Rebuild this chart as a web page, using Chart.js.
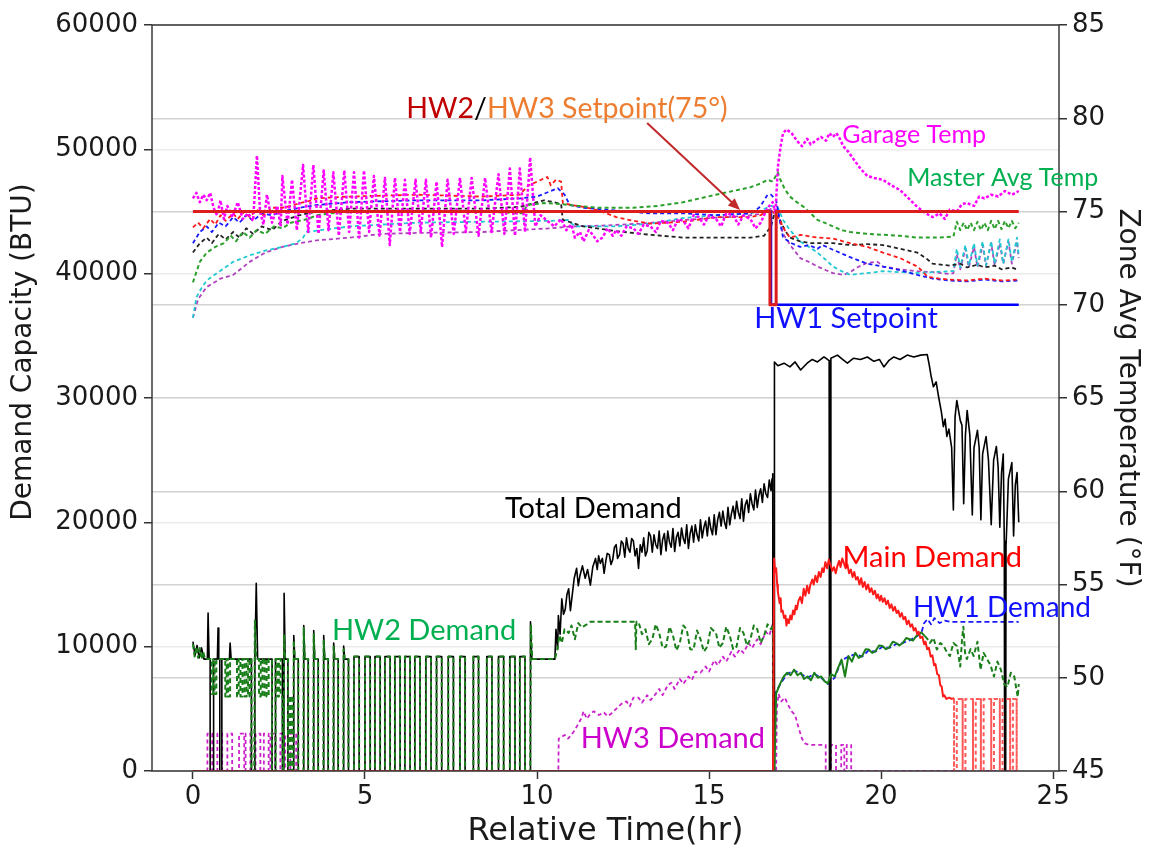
<!DOCTYPE html>
<html>
<head>
<meta charset="utf-8">
<script src="https://cdn.jsdelivr.net/npm/chart.js@4.4.1/dist/chart.umd.min.js"></script>
<style>
  html, body { margin: 0; padding: 0; background: #fff; overflow: hidden; }
  #wrap { width: 1151px; height: 851px; position: relative; }
</style>
</head>
<body>
<div id="wrap"><canvas id="chart"></canvas></div>
<script>
// ---- data (hours, BTU / °F) ----
const xTicks = [0, 5, 10, 15, 20, 25];

const totalDemand = [
  [0,10400],[0.06,9300],[0.12,10100],[0.18,9100],[0.25,9900],[0.32,9000],[0.42,9000],[0.44,12700],[0.47,9000],[0.5,9000],[0.5,0],[0.6,0],[0.6,9000],
  [0.71,9000],[0.73,11500],[0.75,9000],[0.78,9000],[0.78,0],[0.84,0],[0.84,9000],[1.06,9000],[1.08,10300],[1.11,9000],
  [1.7,9000],[1.7,0],[1.8,0],[1.8,9000],[1.84,15100],[1.88,9000],[2.3,9000],[2.3,0],[2.4,0],[2.4,9000],[2.6,9000],[2.6,0],[2.64,0],[2.65,14300],[2.68,9000],
  [2.76,9000],[2.76,0],[2.92,0],[2.93,10900],[2.96,9000],[3.06,9000],[3.06,0],[3.21,0],[3.22,11700],[3.25,9000],[3.35,9000],[3.35,0],
  [3.5,0],[3.51,11300],[3.54,9000],[3.64,9000],[3.64,0],[3.79,0],[3.8,10900],[3.83,9000],[3.93,9000],[3.93,0],
  [4.08,0],[4.09,10300],[4.12,9000],[4.22,9000],[4.22,0],[4.37,0],[4.38,10050],[4.41,9000],[4.52,9000],[4.52,0],
  [4.68,0],[4.68,9200],[4.83,9200],[4.83,0],[5.0,0],[5.0,9200],[5.15,9200],[5.15,0],[5.29,0],[5.29,9200],[5.44,9200],[5.44,0],
  [5.58,0],[5.58,9200],[5.73,9200],[5.73,0],[5.87,0],[5.87,9200],[6.02,9200],[6.02,0],[6.16,0],[6.16,9200],[6.31,9200],[6.31,0],
  [6.45,0],[6.45,9200],[6.6,9200],[6.6,0],[6.77,0],[6.77,9200],[6.92,9200],[6.92,0],[7.08,0],[7.08,9200],[7.23,9200],[7.23,0],
  [7.42,0],[7.42,9200],[7.57,9200],[7.57,0],[7.76,0],[7.76,9200],[7.91,9200],[7.91,0],[8.15,0],[8.15,9200],[8.3,9200],[8.3,0],
  [8.54,0],[8.54,9200],[8.69,9200],[8.69,0],[8.88,0],[8.88,9200],[9.03,9200],[9.03,0],[9.21,0],[9.21,9200],[9.36,9200],[9.36,0],
  [9.5,0],[9.5,9200],[9.65,9200],[9.65,0],[9.8,0],[9.81,12000],[9.85,9000],[10.52,9000],
  [10.55,11400],[10.6,9800],[10.62,12500],[10.67,11000],[10.72,13850],[10.77,12600],[10.82,13000],[10.87,14200],[10.92,14650],[10.97,12900],
  [11.0,13600],[11.08,15500],[11.15,16300],[11.2,14900],[11.25,15750],[11.32,16500],[11.4,15500],[11.47,16200],[11.55,14950],[11.62,16400],
  [11.7,17100],[11.75,16200],[11.79,17300],[11.84,16700],[11.9,17100],[11.95,15900],[12.0,16900],[12.04,17500],[12.1,17400],[12.15,16600],
  [12.2,17000],[12.25,18000],[12.3,18200],[12.34,17100],[12.4,17400],[12.45,18500],[12.5,18300],[12.55,17200],[12.6,18750],[12.65,17900],
  [12.7,17600],[12.75,18700],[12.8,18500],[12.85,17300],[12.9,17900],[12.95,16300],[13.0,18200],[13.05,17600],[13.1,18750],[13.15,17300],
  [13.2,17700],[13.25,19200],[13.3,18900],[13.35,17600],[13.4,19000],[13.45,18200],[13.5,17900],[13.55,19300],[13.6,17400],[13.65,18600],
  [13.7,19100],[13.75,17700],[13.8,19300],[13.85,18400],[13.9,18000],[13.95,19500],[14.0,17650],[14.05,18800],[14.1,19200],[14.15,18100],
  [14.2,19550],[14.25,18700],[14.3,18300],[14.35,19800],[14.4,17900],[14.45,19100],[14.5,19700],[14.55,18400],[14.6,19800],[14.65,19000],
  [14.7,18500],[14.75,20200],[14.8,18750],[14.85,19600],[14.9,20100],[14.95,18900],[15.0,20400],[15.05,19500],[15.1,19000],[15.15,20600],
  [15.2,19000],[15.25,20200],[15.3,20800],[15.35,19700],[15.4,20900],[15.45,20000],[15.5,19500],[15.55,21200],[15.6,19800],[15.65,20700],
  [15.7,21300],[15.75,20300],[15.8,21700],[15.85,20800],[15.9,20300],[15.95,21900],[16.0,20100],[16.05,21400],[16.1,21800],[16.15,20800],
  [16.2,22300],[16.25,21500],[16.3,21000],[16.35,22600],[16.4,21200],[16.45,22200],[16.5,22700],[16.55,21600],[16.6,23100],[16.65,22300],
  [16.7,22000],[16.75,23400],[16.8,22550],[16.83,23500],[16.85,23900],[16.86,0],[16.89,0],[16.9,32900],
  [17.0,32600],[17.18,32800],[17.35,32500],[17.5,32900],[17.66,32250],[17.85,32800],[18.0,33100],[18.15,32900],[18.34,33300],[18.49,33000],
  [18.5,0],[18.53,0],[18.54,33200],[18.73,33450],[18.88,33100],[19.02,32800],[19.2,33200],[19.4,33100],[19.6,33300],[19.79,32950],
  [19.95,33100],[20.08,32500],[20.22,33000],[20.37,33300],[20.55,33100],[20.76,33450],[20.95,33300],[21.15,33450],[21.34,33500],
  [21.4,32650],[21.45,31800],[21.52,30900],[21.6,31300],[21.67,30100],[21.75,28900],[21.81,27700],[21.86,28300],[21.91,26900],[21.97,27500],
  [22.05,26000],[22.1,21000],[22.15,28500],[22.2,29800],[22.3,28200],[22.35,27800],[22.4,21500],[22.45,27000],[22.5,29000],[22.58,27000],
  [22.65,20600],[22.7,26000],[22.8,27400],[22.85,26000],[22.9,20200],[22.95,25500],[23.05,26900],[23.12,25000],[23.2,19800],[23.27,25000],
  [23.35,26100],[23.4,24500],[23.45,19600],[23.5,24000],[23.55,25500],[23.58,18500],[23.59,0],[23.62,0],[23.63,18000],[23.7,23500],
  [23.8,24800],[23.85,18900],[23.9,23000],[23.95,24000],[24.0,20000]
];

const mainDemand = [
  [0,0],[16.86,0],[16.89,17100],[16.92,16000],[16.95,16300],[16.98,15000],[17.0,14400],[17.05,13500],[17.08,13900],[17.1,12800],
  [17.14,12900],[17.18,12300],[17.22,12500],[17.25,11700],[17.28,12200],[17.32,11900],[17.36,12500],[17.4,12200],[17.44,12900],[17.48,12600],
  [17.52,13300],[17.55,13000],[17.6,13700],[17.65,14000],[17.7,13500],[17.75,14650],[17.8,14100],[17.85,14900],[17.9,14300],[17.94,14950],
  [18.0,15400],[18.04,15000],[18.09,15700],[18.14,15200],[18.19,16000],[18.24,15600],[18.29,16300],[18.33,16000],[18.38,16800],[18.43,16300],
  [18.48,17000],[18.53,16550],[18.58,16100],[18.63,16400],[18.68,15900],[18.73,16500],[18.78,16900],[18.82,16400],[18.87,17100],[18.92,16700],
  [18.97,16300],[19.02,16600],[19.07,15900],[19.12,16200],[19.17,15600],[19.22,16000],[19.27,15400],[19.32,15600],[19.37,15000],[19.42,15500],
  [19.47,14800],[19.52,15200],[19.57,14600],[19.62,15000],[19.67,14400],[19.72,14700],[19.77,14200],[19.82,14500],[19.87,13900],[19.91,14200],
  [19.96,13700],[20.0,14100],[20.05,13600],[20.1,13900],[20.15,13400],[20.2,13700],[20.25,13100],[20.3,13400],[20.35,12900],[20.4,13200],
  [20.45,12700],[20.5,12900],[20.55,12400],[20.6,12700],[20.65,12200],[20.7,12400],[20.75,11800],[20.8,12100],[20.85,11600],[20.9,11800],
  [20.95,11300],[21.0,11500],[21.05,11000],[21.09,11200],[21.14,10700],[21.2,10800],[21.25,10200],[21.29,10400],[21.34,9800],[21.39,9900],
  [21.44,9200],[21.49,9300],[21.54,8500],[21.58,8600],[21.63,7800],[21.68,7700],[21.72,6900],[21.76,6800],[21.8,6000],[21.83,6100],
  [21.9,5800],[21.98,5900],[22.05,5800],[22.12,5850],
  [22.12,0],[22.2,0],[22.2,5800],[22.37,5800],[22.37,0],[22.45,0],[22.45,5800],[22.67,5800],[22.67,0],
  [22.75,0],[22.75,5800],[22.9,5800],[22.9,0],[22.98,0],[22.98,5800],[23.2,5800],[23.2,0],[23.28,0],[23.28,5800],[23.45,5800],[23.45,0],
  [23.53,0],[23.53,5800],[23.75,5800],[23.75,0],[23.83,0],[23.83,5800],[23.94,5800],[23.94,0],[24.0,0]
];

const hw1Demand = [
  [0,0],[16.87,0],[16.88,6000],[17.07,7000],[17.27,7800],[17.47,8100],[17.67,7800],[17.86,7500],[18.06,7800],[18.26,7500],[18.45,7000],
  [18.65,7500],[18.85,8900],[19.05,9200],[19.25,9400],[19.45,9200],[19.64,9700],[19.84,9600],[20.04,10000],[20.24,9900],[20.43,10200],
  [20.63,10300],[20.83,10500],[21.02,10800],[21.17,11100],[21.25,11900],[21.35,12200],[21.45,11800],[21.55,12300],[21.7,11900],[21.85,12100],
  [22.0,12000],[24.0,12000]
];

const hw2Demand = [
  [0,10200],[0.05,9200],[0.1,10000],[0.15,9100],[0.2,9900],[0.25,9000],[0.3,9600],[0.35,9000],[0.5,9000],
  [0.55,9000],[0.55,6200],[0.59,6200],[0.59,9000],[0.63,9000],[0.63,6200],[0.68,6200],[0.68,9000],
  [0.94,9000],[0.94,6000],[0.98,6000],[0.98,9000],[1.02,9000],[1.02,6000],[1.08,6000],[1.08,9000],
  [1.28,9000],[1.28,6000],[1.33,6000],[1.33,9000],[1.38,9000],[1.38,6000],[1.44,6000],[1.44,9000],[1.5,9000],[1.5,6000],[1.56,6000],[1.56,9000],
  [1.6,9000],[1.6,6000],[1.64,6000],[1.64,9000],[1.7,9000],[1.7,0],[1.78,0],[1.8,12100],[1.84,9000],
  [1.92,9000],[1.92,6000],[1.97,6000],[1.97,9000],[2.02,9000],[2.02,6000],[2.08,6000],[2.08,9000],[2.14,9000],[2.14,6000],[2.2,6000],[2.2,9000],
  [2.3,9000],[2.3,0],[2.4,0],[2.4,9000],[2.45,9000],[2.45,6000],[2.5,6000],[2.5,9000],[2.55,9000],[2.55,6000],[2.6,6000],[2.62,0],[2.64,0],
  [2.65,11000],[2.68,9000],[2.76,9000],[2.76,0],[2.82,0],[2.82,6000],[2.88,6000],[2.88,0],[2.92,0],[2.93,10500],[2.96,9000],[3.06,9000],[3.06,0],
  [3.21,0],[3.22,11500],[3.25,9000],[3.35,9000],[3.35,0],[3.5,0],[3.51,11000],[3.54,9000],[3.64,9000],[3.64,0],[3.79,0],[3.8,10500],[3.83,9000],
  [3.93,9000],[3.93,0],[4.08,0],[4.09,10000],[4.12,9000],[4.22,9000],[4.22,0],[4.37,0],[4.38,9800],[4.41,9000],[4.52,9000],[4.52,0],
  [4.68,0],[4.68,9200],[4.83,9200],[4.83,0],[5.0,0],[5.0,9200],[5.15,9200],[5.15,0],[5.29,0],[5.29,9200],[5.44,9200],[5.44,0],
  [5.58,0],[5.58,9200],[5.73,9200],[5.73,0],[5.87,0],[5.87,9200],[6.02,9200],[6.02,0],[6.16,0],[6.16,9200],[6.31,9200],[6.31,0],
  [6.45,0],[6.45,9200],[6.6,9200],[6.6,0],[6.77,0],[6.77,9200],[6.92,9200],[6.92,0],[7.08,0],[7.08,9200],[7.23,9200],[7.23,0],
  [7.42,0],[7.42,9200],[7.57,9200],[7.57,0],[7.76,0],[7.76,9200],[7.91,9200],[7.91,0],[8.15,0],[8.15,9200],[8.3,9200],[8.3,0],
  [8.54,0],[8.54,9200],[8.69,9200],[8.69,0],[8.88,0],[8.88,9200],[9.03,9200],[9.03,0],[9.21,0],[9.21,9200],[9.36,9200],[9.36,0],
  [9.5,0],[9.5,9200],[9.65,9200],[9.65,0],[9.8,0],[9.82,11800],[9.86,9000],[10.52,9000],
  [10.59,9770],[10.65,10900],[10.72,10300],[10.8,11400],[10.92,11100],[11.0,11700],[11.1,10600],[11.2,11900],[11.3,11550],[11.45,11800],
  [11.55,12000],[12.85,12000],[12.87,9800],[12.89,12000],[12.95,12000],[13.05,11000],[13.15,11400],[13.25,10200],[13.35,10600],[13.45,11800],
  [13.55,11100],[13.65,9900],[13.75,10000],[13.85,11600],[13.95,10900],[14.05,9700],[14.15,10300],[14.25,11700],[14.35,11400],[14.45,9800],
  [14.55,9770],[14.65,11300],[14.75,10600],[14.85,9600],[14.95,10000],[15.05,11500],[15.2,11100],[15.3,9900],[15.4,10300],[15.5,11600],
  [15.6,10900],[15.7,9800],[15.8,10000],[15.9,11500],[16.0,11100],[16.1,10100],[16.2,10600],[16.3,11700],[16.4,11400],[16.5,10300],
  [16.6,10900],[16.7,11800],[16.8,11400],[16.86,11800],[16.87,0],[16.9,0],[16.95,6250],[17.07,7050],[17.17,7600],[17.27,7900],
  [17.37,7700],[17.47,8150],[17.57,7700],[17.67,7900],[17.76,7400],[17.86,7600],[17.96,7300],[18.06,7900],[18.16,7500],[18.26,7600],
  [18.36,7200],[18.45,7050],[18.55,7800],[18.65,7600],[18.75,8300],[18.85,8960],[18.95,7600],[19.05,9250],[19.15,8800],[19.25,9500],
  [19.35,9100],[19.45,9250],[19.55,9800],[19.64,9770],[19.74,9500],[19.84,9650],[19.94,10100],[20.04,10050],[20.14,9800],[20.24,9950],
  [20.34,10400],[20.43,10300],[20.53,10100],[20.63,10300],[20.73,10700],[20.83,10600],[20.93,10500],[21.02,10850],[21.1,11000],[21.17,11150],
  [21.27,10850],[21.35,10600],[21.42,10300],[21.52,10700],[21.62,9770],[21.72,10300],[21.82,10050],[21.92,9500],[22.0,9250],[22.1,10300],
  [22.2,10050],[22.3,8400],[22.35,10500],[22.39,11600],[22.44,9500],[22.49,9000],[22.6,9800],[22.69,9250],[22.8,10400],[22.89,8150],
  [22.98,9500],[23.08,9000],[23.18,8500],[23.28,7600],[23.38,8800],[23.48,8150],[23.58,7000],[23.67,6750],[23.77,7900],[23.87,7600],
  [23.97,5950],[24.0,7000]
];

const hw3Demand = [
  [0,0],[0.42,0],[0.42,3000],[0.56,3000],[0.56,0],[0.71,0],[0.71,3000],[0.85,3000],[0.85,0],[1.0,0],[1.0,3000],[1.14,3000],[1.14,0],
  [1.34,0],[1.34,3000],[1.49,3000],[1.49,0],[1.53,0],[1.53,3000],[1.67,3000],[1.67,0],[1.82,0],[1.82,3000],[1.96,3000],[1.96,0],
  [2.06,0],[2.06,3000],[2.2,3000],[2.2,0],[2.25,0],[2.25,3000],[2.39,3000],[2.39,0],[2.54,0],[2.54,3000],[2.68,3000],[2.68,0],
  [2.83,0],[2.83,3000],[3.0,3000],[3.0,0],[10.62,0],[10.63,2600],[10.8,2900],[10.9,2600],[11.0,2900],[11.1,3300],[11.2,3800],
  [11.3,4300],[11.35,4800],[11.45,4200],[11.55,4600],[11.65,4800],[11.8,4500],[11.95,4700],[12.05,4400],[12.15,4600],[12.3,5000],
  [12.45,5400],[12.6,5600],[12.7,5200],[12.8,5900],[12.95,5900],[13.05,5500],[13.2,6100],[13.3,5700],[13.45,6200],[13.55,6600],
  [13.65,6100],[13.8,6900],[13.9,7100],[14.0,6600],[14.15,7400],[14.25,7000],[14.4,7600],[14.5,7300],[14.6,8000],[14.75,7900],
  [14.9,8400],[15.0,8000],[15.15,8900],[15.25,8500],[15.4,9200],[15.5,8800],[15.65,9600],[15.75,9200],[15.9,9800],[16.0,9500],
  [16.15,10300],[16.25,9900],[16.4,10600],[16.5,10200],[16.65,11200],[16.75,10900],[16.85,11800],[16.86,0],[16.95,0],[16.97,5000],
  [17.02,6200],[17.1,5600],[17.2,5900],[17.3,5300],[17.4,4800],[17.5,4500],[17.6,3500],[17.7,2600],[17.8,2200],[17.9,2100],
  [18.39,2100],[18.39,0],[18.54,0],[18.54,2100],[18.69,2100],[18.69,0],[18.84,0],[18.84,2100],[18.93,2100],[18.93,0],[19.0,0],
  [19.0,2100],[19.13,2100],[19.13,0],[24,0]
];

const hw23Setpoint = [[0,75],[16.77,75],[16.77,70],[16.95,70],[16.95,75],[24,75]];
const hw1Setpoint = [[0,75],[16.8,75],[16.8,70],[24,70]];

const garageTemp = [
  [0,75.7],[0.1,76.0],[0.2,75.5],[0.3,75.9],[0.4,75.6],[0.5,76.0],[0.6,75.2],[0.7,74.8],[0.8,75.6],[0.9,74.6],[1.0,75.3],[1.15,74.7],
  [1.3,75.5],[1.45,74.6],[1.6,74.9],[1.75,74.5],[1.86,78.0],[1.95,75.0],[2.05,74.3],[2.15,75.9],[2.3,74.4],[2.45,75.3],[2.55,74.2],
  [2.6,76.9],[2.75,74.3],[2.88,76.7],[3.02,74.0],[3.2,77.5],[3.35,73.9],[3.5,77.5],[3.65,73.8],[3.8,77.2],[3.94,74.0],[4.08,77.1],
  [4.24,73.7],[4.4,77.2],[4.54,73.9],[4.68,77.1],[4.83,73.6],[4.97,77.2],[5.12,73.9],[5.26,76.9],[5.42,73.7],[5.58,76.8],[5.72,73.2],
  [5.87,76.8],[6.02,73.9],[6.16,76.7],[6.3,73.8],[6.47,76.7],[6.62,73.9],[6.77,76.7],[6.92,73.6],[7.08,76.6],[7.24,73.1],[7.4,76.7],
  [7.58,73.8],[7.76,76.8],[7.93,73.9],[8.1,76.8],[8.3,73.7],[8.49,76.8],[8.68,73.9],[8.88,77.0],[9.05,73.8],[9.21,77.3],[9.36,73.7],
  [9.5,77.3],[9.65,73.9],[9.8,77.9],[9.95,74.2],[10.1,74.8],[10.3,74.5],[10.5,74.2],[10.7,74.6],[10.85,74.0],[11.0,74.3],[11.1,73.6],
  [11.25,73.9],[11.35,73.4],[11.5,74.0],[11.6,73.8],[11.75,73.4],[11.9,73.6],[12.05,74.1],[12.2,73.7],[12.3,74.0],[12.45,73.7],
  [12.6,74.2],[12.8,74.1],[12.95,73.8],[13.1,74.3],[13.3,74.2],[13.45,73.9],[13.6,74.5],[13.8,74.4],[13.95,74.0],[14.1,74.6],
  [14.25,74.5],[14.4,74.1],[14.55,74.8],[14.7,74.7],[14.85,74.3],[15.0,74.8],[15.2,74.6],[15.35,74.2],[15.5,74.9],[15.7,74.8],
  [15.85,74.3],[16.0,74.8],[16.2,74.6],[16.35,74.1],[16.5,74.4],[16.6,74.8],[16.7,75.2],[16.85,75.5],[16.93,74.9],[17.0,77.4],
  [17.08,78.5],[17.15,79.2],[17.25,79.4],[17.4,79.2],[17.55,78.8],[17.7,78.5],[17.85,78.9],[17.95,78.6],[18.1,78.8],[18.25,79.0],
  [18.4,78.8],[18.5,79.2],[18.6,79.0],[18.7,79.2],[18.8,78.9],[18.9,78.5],[19.05,78.2],[19.2,77.8],[19.4,77.3],[19.6,76.9],
  [19.8,76.8],[20.05,76.7],[20.3,76.4],[20.55,76.15],[20.8,75.7],[21.05,75.25],[21.3,74.9],[21.5,74.7],[21.7,74.9],[21.85,74.6],
  [22.0,75.1],[22.2,75.0],[22.35,75.4],[22.5,75.45],[22.7,75.3],[22.85,75.8],[23.0,75.7],[23.2,75.9],[23.4,75.8],[23.6,76.1],
  [23.8,75.9],[24,76.1]
];

const masterAvgTemp = [
  [0,71.2],[0.2,72.3],[0.4,72.8],[0.65,73.1],[0.9,73.3],[1.1,73.7],[1.25,73.4],[1.45,73.9],[1.65,73.6],[1.85,74.0],[2.1,73.8],
  [2.35,74.2],[2.6,74.1],[2.85,74.4],[3.1,74.5],[3.35,74.6],[3.6,74.8],[4.0,74.9],[4.55,75.0],[5.5,75.0],[6.5,75.0],[7.5,75.0],
  [8.4,75.0],[9.6,74.9],[9.7,75.35],[10.2,75.45],[10.7,75.4],[11.2,75.3],[11.8,75.2],[12.8,75.2],[13.5,75.3],[14.25,75.5],
  [15.2,75.9],[15.7,76.1],[16.2,76.3],[16.5,76.5],[16.7,76.7],[16.85,76.6],[17.0,77.1],[17.05,76.8],[17.2,76.2],[17.35,75.8],
  [17.55,75.5],[17.75,75.25],[17.95,74.9],[18.15,74.55],[18.35,74.4],[18.6,74.2],[18.85,74.0],[19.1,73.9],[19.6,73.8],[20.05,73.75],
  [20.55,73.7],[21.05,73.6],[21.6,73.6],[22.1,73.65],[22.2,74.45],[22.3,74.0],[22.4,74.4],[22.5,74.0],[22.6,74.4],[22.7,74.0],
  [22.8,74.45],[22.9,74.0],[23.0,74.4],[23.1,74.0],[23.2,74.5],[23.3,74.05],[23.4,74.5],[23.5,74.05],[23.6,74.5],[23.7,74.1],
  [23.8,74.5],[23.9,74.1],[24,74.4]
];

const zoneRedTemp = [
  [0,74.15],[0.15,74.4],[0.3,74.1],[0.5,74.6],[0.65,74.3],[0.8,74.8],[0.95,74.5],[1.17,74.9],[1.3,74.6],[1.5,75.0],[1.65,74.7],
  [1.85,75.1],[2.05,74.8],[2.3,75.2],[2.6,75.2],[2.85,75.3],[3.1,75.45],[3.35,75.55],[3.6,75.7],[4.0,75.75],[4.55,75.8],[5.5,75.85],
  [6.5,75.9],[7.5,75.85],[8.4,75.8],[9.5,75.9],[9.75,76.4],[10.0,76.6],[10.3,76.85],[10.4,76.4],[10.55,76.7],[10.7,76.6],[10.75,75.45],
  [11.0,75.35],[11.35,75.25],[11.8,75.05],[12.3,74.7],[12.8,74.5],[13.3,74.35],[14.25,74.45],[15.2,74.7],[16.2,74.7],[16.5,74.8],
  [16.7,75.1],[16.85,75.0],[17.05,74.55],[17.2,74.0],[17.35,73.6],[17.65,73.75],[18.15,73.6],[18.6,73.55],[19.1,73.3],[19.6,73.1],
  [20.05,72.8],[20.55,72.5],[21.05,72.05],[21.2,71.8],[21.35,71.5],[21.7,71.4],[22.0,71.35],[22.5,71.3],[23.0,71.4],[23.5,71.3],[24,71.35]
];

const zoneBlueTemp = [
  [0,73.3],[0.2,73.9],[0.4,74.2],[0.55,73.9],[0.75,74.4],[0.95,74.2],[1.17,74.7],[1.35,74.4],[1.55,74.8],[1.75,74.5],[2.0,74.9],
  [2.3,74.8],[2.6,75.0],[3.1,75.2],[3.6,75.35],[4.55,75.5],[5.5,75.55],[6.5,75.6],[7.5,75.6],[8.4,75.6],[9.5,75.7],[10.0,75.8],
  [10.6,76.25],[10.8,75.9],[10.95,75.35],[11.35,75.2],[12.3,75.05],[13.3,74.9],[14.25,74.9],[15.2,74.8],[16.2,74.9],[16.45,75.2],
  [16.55,75.45],[16.7,75.9],[16.8,75.9],[16.95,75.6],[17.05,74.6],[17.15,73.6],[17.4,73.3],[17.65,73.1],[17.9,73.2],[18.15,73.0],
  [18.3,73.2],[18.6,72.95],[19.1,72.55],[19.6,72.2],[20.05,72.05],[20.55,71.85],[21.05,71.6],[21.5,71.4],[22.0,71.3],[22.5,71.25],
  [23.0,71.35],[23.5,71.25],[24,71.3]
];

const zoneBlackTemp = [
  [0,72.8],[0.2,73.3],[0.4,73.6],[0.55,73.3],[0.75,73.8],[0.95,73.5],[1.17,73.9],[1.35,73.6],[1.55,74.1],[1.75,73.8],[2.0,74.2],
  [2.3,74.0],[2.6,74.5],[3.1,74.8],[3.6,75.0],[4.55,75.15],[5.5,75.15],[6.5,75.15],[7.5,75.15],[8.4,75.15],[9.5,75.25],[9.8,75.4],
  [10.2,75.6],[10.5,75.5],[10.7,75.4],[10.75,74.55],[11.35,74.2],[12.3,73.95],[13.3,73.75],[14.25,73.6],[15.2,73.6],[16.2,73.6],
  [16.6,73.7],[16.8,74.2],[16.9,74.9],[17.05,74.6],[17.2,74.0],[17.35,73.6],[17.65,73.4],[17.95,73.3],[18.3,73.3],[18.6,73.3],
  [19.1,73.2],[19.6,73.25],[20.05,73.2],[20.55,73.0],[21.05,72.8],[21.3,72.5],[21.5,72.2],[22.0,72.1],[22.3,72.2],[22.5,72.0],
  [22.8,72.15],[23.0,72.0],[23.3,72.1],[23.5,71.9],[23.8,72.0],[24,71.85]
];

const zoneCyanTemp = [
  [0,69.3],[0.1,70.4],[0.25,70.9],[0.4,71.3],[0.7,71.7],[1.17,72.3],[1.65,72.65],[2.1,72.9],[2.6,73.1],[3.0,73.3],[3.2,73.6],
  [3.3,73.9],[4.55,74.2],[5.5,74.3],[6.5,74.4],[8.4,74.45],[10.4,74.5],[10.9,74.55],[11.1,74.2],[12.3,74.2],[13.3,74.35],[14.25,74.65],
  [15.2,74.8],[16.2,74.9],[16.5,75.05],[16.8,75.3],[17.0,75.2],[17.15,74.55],[17.35,74.0],[17.65,73.4],[17.9,73.1],[18.15,72.8],
  [18.4,72.4],[18.6,72.05],[18.85,71.8],[19.1,71.6],[19.6,71.7],[20.05,71.8],[20.55,71.75],[21.05,71.7],[21.5,71.75],[22.0,71.8],
  [22.1,71.8],[22.2,73.0],[22.3,72.0],[22.45,73.2],[22.55,72.1],[22.7,73.3],[22.8,72.1],[22.95,73.4],[23.05,72.1],[23.2,73.4],
  [23.3,72.2],[23.45,73.5],[23.55,72.2],[23.7,73.5],[23.8,72.3],[23.95,73.6],[24.0,72.6]
];

const zonePurpleTemp = [
  [0,69.3],[0.15,70.3],[0.4,70.95],[0.8,71.4],[1.17,71.6],[1.65,72.3],[2.1,72.8],[2.6,73.1],[3.1,73.3],[3.6,73.45],[4.55,73.6],
  [5.5,73.8],[6.5,73.85],[8.4,73.9],[10.4,74.1],[11.0,74.2],[12.0,74.25],[13.0,74.35],[14.0,74.5],[15.0,74.65],[16.0,74.75],
  [16.6,74.9],[16.85,75.2],[17.0,74.9],[17.15,73.8],[17.4,73.1],[17.65,72.5],[17.9,72.3],[18.15,72.05],[18.4,71.85],[18.6,71.7],
  [18.9,71.6],[19.1,71.75],[19.3,72.0],[19.6,72.25],[19.9,72.3],[20.05,72.05],[20.55,71.9],[21.05,71.8],[21.5,71.75],[22.0,71.65],
  [22.1,71.7],[22.2,72.7],[22.3,71.9],[22.45,73.0],[22.55,72.0],[22.7,73.1],[22.8,72.0],[22.95,73.2],[23.05,72.1],[23.2,73.3],
  [23.3,72.1],[23.45,73.3],[23.55,72.2],[23.7,73.4],[23.8,72.2],[23.95,73.4],[24.0,72.5]
];

// labels drawn on the plot (data coordinates)
const notes = [
  { text: 'Garage Temp', x: 18.87, y: 79.16, axis: 'y2', color: '#ff00ff', size: 25 },
  { text: 'Master Avg Temp', x: 20.76, y: 76.85, axis: 'y2', color: '#00b050', size: 25 },
  { text: 'HW1 Setpoint', x: 16.31, y: 69.29, axis: 'y2', color: '#1010ff', size: 29 },
  { text: 'Total Demand', x: 9.07, y: 21150, axis: 'y', color: '#000000', size: 29 },
  { text: 'Main Demand', x: 18.88, y: 17240, axis: 'y', color: '#ff0000', size: 29 },
  { text: 'HW1 Demand', x: 20.93, y: 13190, axis: 'y', color: '#1010ff', size: 28 },
  { text: 'HW2 Demand', x: 4.04, y: 11340, axis: 'y', color: '#00b050', size: 29 },
  { text: 'HW3 Demand', x: 11.27, y: 2700, axis: 'y', color: '#cc00cc', size: 29 }
];
const setpointNote = { x: 6.2, y: 80.55, size: 28.5,
  parts: [['HW2', '#c00000'], ['/', '#000000'], ['HW3 Setpoint(75°)', '#ed7d31']] };
const arrowNote = { from: [13.2, 79.75], to: [15.9, 75.08], color: '#c0282a' };

const hw2SolidFrom = 16.9, hw2SolidTo = 21.3;
const mainPulseFrom = 22.1;

function pts(arr) {
  return arr.map(p => ({ x: p[0], y: p[1] }));
}

function line(label, arr, axis, color, width, dash, order) {
  return {
    label: label,
    data: pts(arr),
    yAxisID: axis,
    borderColor: color,
    borderWidth: width,
    borderDash: dash,
    borderJoinStyle: 'round',
    pointRadius: 0,
    tension: 0,
    fill: false,
    order: order
  };
}

const tickFont = { family: "'DejaVu Sans', sans-serif", size: 26 };
const plainNum = v => String(v);

const frame = {
  id: 'frame',
  afterDatasetsDraw(chart) {
    const { ctx, chartArea: a, scales } = chart;
    ctx.save();
    ctx.strokeStyle = '#3a3a3a';
    ctx.lineWidth = 1.5;
    ctx.strokeRect(a.left, a.top, a.right - a.left, a.bottom - a.top);

    // arrow
    const x0 = scales.x.getPixelForValue(arrowNote.from[0]);
    const y0 = scales.y2.getPixelForValue(arrowNote.from[1]);
    const x1 = scales.x.getPixelForValue(arrowNote.to[0]);
    const y1 = scales.y2.getPixelForValue(arrowNote.to[1]);
    const ang = Math.atan2(y1 - y0, x1 - x0);
    ctx.strokeStyle = arrowNote.color;
    ctx.fillStyle = arrowNote.color;
    ctx.lineWidth = 2;
    ctx.beginPath();
    ctx.moveTo(x0, y0);
    ctx.lineTo(x1 - 8 * Math.cos(ang), y1 - 8 * Math.sin(ang));
    ctx.stroke();
    ctx.beginPath();
    ctx.moveTo(x1, y1);
    ctx.lineTo(x1 - 12 * Math.cos(ang) + 5 * Math.sin(ang), y1 - 12 * Math.sin(ang) - 5 * Math.cos(ang));
    ctx.lineTo(x1 - 12 * Math.cos(ang) - 5 * Math.sin(ang), y1 - 12 * Math.sin(ang) + 5 * Math.cos(ang));
    ctx.closePath();
    ctx.fill();

    // text notes
    ctx.textAlign = 'left';
    ctx.textBaseline = 'alphabetic';
    notes.forEach(n => {
      ctx.font = n.size + 'px Lato, "Open Sans", sans-serif';
      ctx.fillStyle = n.color;
      const px = scales.x.getPixelForValue(n.x);
      const py = scales[n.axis].getPixelForValue(n.y) + n.size * 0.36;
      ctx.fillText(n.text, px, py);
    });
    ctx.font = setpointNote.size + 'px Lato, "Open Sans", sans-serif';
    let sx = scales.x.getPixelForValue(setpointNote.x);
    const sy = scales.y2.getPixelForValue(setpointNote.y) + setpointNote.size * 0.36;
    setpointNote.parts.forEach(p => {
      ctx.fillStyle = p[1];
      ctx.fillText(p[0], sx, sy);
      sx += ctx.measureText(p[0]).width;
    });

    // left axis title
    ctx.translate(24, 352);
    ctx.rotate(-Math.PI / 2);
    ctx.font = "28px 'DejaVu Sans', sans-serif";
    ctx.fillStyle = '#1a1a1a';
    ctx.textAlign = 'center';
    ctx.textBaseline = 'middle';
    ctx.fillText('Demand Capacity (BTU)', 0, 0);
    ctx.restore();
  }
};

const hw2 = line('HW2 Demand', hw2Demand, 'y', '#1a7f1a', 2, [5, 3], 11);
hw2.segment = {
  borderDash: c => (c.p0.parsed.x >= hw2SolidFrom && c.p1.parsed.x <= hw2SolidTo) ? [] : [5, 3]
};

const main = line('Main Demand', mainDemand, 'y', '#ff1a1a', 2, [], 10);
main.segment = {
  borderDash: c => (c.p0.parsed.x >= mainPulseFrom) ? [4, 3] : [],
  borderColor: c => (c.p0.parsed.x >= mainPulseFrom) ? '#ff5a5a' : '#ff1a1a'
};

new Chart(document.getElementById('chart'), {
  type: 'line',
  data: {
    datasets: [
      line('HW2/HW3 Setpoint', hw23Setpoint, 'y2', '#dd1c1c', 3, [], 1),
      line('HW1 Setpoint', hw1Setpoint, 'y2', '#0000ff', 2.5, [], 2),
      line('Garage Temp', garageTemp, 'y2', '#ff00ff', 2.5, [3, 2], 3),
      line('Master Avg Temp', masterAvgTemp, 'y2', '#2ca02c', 2, [4, 3], 4),
      line('Zone Red', zoneRedTemp, 'y2', '#ff1a1a', 1.8, [4, 3], 5),
      line('Zone Blue', zoneBlueTemp, 'y2', '#1a1aff', 1.8, [4, 3], 6),
      line('Zone Black', zoneBlackTemp, 'y2', '#222222', 1.8, [4, 3], 7),
      line('Zone Cyan', zoneCyanTemp, 'y2', '#22c8d0', 1.8, [4, 3], 8),
      line('Zone Purple', zonePurpleTemp, 'y2', '#b040c0', 1.8, [4, 3], 9),
      main,
      hw2,
      line('Total Demand', totalDemand, 'y', '#000000', 1.6, [], 12),
      line('HW3 Demand', hw3Demand, 'y', '#cc22cc', 1.8, [4, 3], 13),
      line('HW1 Demand', hw1Demand, 'y', '#1a1aff', 1.8, [5, 3], 14)
    ]
  },
  options: {
    responsive: true,
    maintainAspectRatio: false,
    animation: false,
    events: [],
    layout: { padding: { top: 25, left: 0, right: 0, bottom: 0 } },
    plugins: { legend: { display: false }, tooltip: { enabled: false } },
    scales: {
      x: {
        type: 'linear',
        min: -1.19,
        max: 25.17,
        afterBuildTicks: s => { s.ticks = xTicks.map(v => ({ value: v })); },
        afterFit: s => { s.height = 80; },
        grid: { drawOnChartArea: false, tickLength: 8, tickColor: '#333', tickWidth: 1.5 },
        border: { display: false },
        ticks: { font: tickFont, color: '#1a1a1a', padding: 3, maxRotation: 0, callback: plainNum },
        title: {
          display: true,
          text: 'Relative Time(hr)',
          font: { family: "'Liberation Sans Narrow', 'DejaVu Sans', sans-serif", size: 32 },
          color: '#1a1a1a',
          padding: { top: 0, bottom: 0 }
        }
      },
      y: {
        position: 'left',
        min: 0,
        max: 60000,
        afterFit: s => { s.width = 152; },
        grid: { color: '#ebebeb', lineWidth: 1.5, tickLength: 8, tickColor: '#333', tickWidth: 1.5 },
        border: { display: false },
        ticks: { stepSize: 10000, font: tickFont, color: '#1a1a1a', padding: 6, callback: plainNum }
      },
      y2: {
        position: 'right',
        min: 45,
        max: 85,
        afterFit: s => { s.width = 92; },
        grid: { color: '#d2d2d2', lineWidth: 1.5, tickLength: 8, tickColor: '#333', tickWidth: 1.5 },
        border: { display: false },
        ticks: { stepSize: 5, font: tickFont, color: '#1a1a1a', padding: 5, callback: plainNum },
        title: {
          display: true,
          text: 'Zone Avg Temperature (°F)',
          font: { family: "'DejaVu Sans', sans-serif", size: 28 },
          color: '#1a1a1a',
          padding: { top: 7, bottom: 0 }
        }
      }
    }
  },
  plugins: [frame]
});
</script>
</body>
</html>
